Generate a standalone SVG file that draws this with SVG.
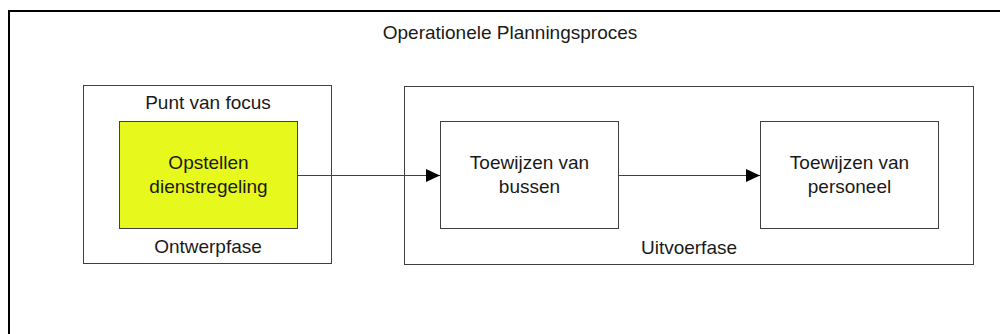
<svg xmlns="http://www.w3.org/2000/svg" width="1000" height="334" viewBox="0 0 1000 334">
  <style>
    .box { fill: #ffffff; stroke: #404040; stroke-width: 1; }
    .focus { fill: #e6f81c; stroke: #404040; stroke-width: 1; }
    .frame { fill: #ffffff; stroke: #000000; stroke-width: 2; }
    .lbl { font-family: "Liberation Sans", Arial, sans-serif; font-size: 19px; fill: #1a1a1a; text-anchor: middle; }
    .edge { stroke: #404040; stroke-width: 1; fill: none; }
  </style>
  <defs>
    <marker id="arrow" markerUnits="userSpaceOnUse" markerWidth="14" markerHeight="14" refX="14" refY="7" orient="auto">
      <path d="M0,0.5 L14,7 L0,13.5 Z" fill="#000000"/>
    </marker>
  </defs>

  <rect width="1000" height="334" fill="#ffffff"/>

  <!-- outer process frame, runs off the right and bottom edges -->
  <g id="process">
    <rect class="frame" x="9" y="11" width="1010" height="340"/>
    <text class="lbl" x="510" y="39">Operationele Planningsproces</text>
  </g>

  <!-- design phase -->
  <g id="ontwerpfase">
    <rect class="box" x="83.5" y="85.5" width="248" height="178"/>
    <text class="lbl" x="208" y="109">Punt van focus</text>
    <text class="lbl" x="208" y="253">Ontwerpfase</text>
  </g>

  <g id="opstellen">
    <rect class="focus" x="119.5" y="121.5" width="178" height="107"/>
    <text class="lbl" x="208.5" y="169">Opstellen</text>
    <text class="lbl" x="208.5" y="193">dienstregeling</text>
  </g>

  <!-- execution phase -->
  <g id="uitvoerfase">
    <rect class="box" x="404.5" y="86.5" width="569" height="178"/>
    <text class="lbl" x="689" y="254">Uitvoerfase</text>
  </g>

  <g id="bussen">
    <rect class="box" x="440.5" y="121.5" width="178" height="107"/>
    <text class="lbl" x="529.5" y="169">Toewijzen van</text>
    <text class="lbl" x="529.5" y="193">bussen</text>
  </g>

  <g id="personeel">
    <rect class="box" x="760.5" y="121.5" width="178" height="107"/>
    <text class="lbl" x="849.5" y="169">Toewijzen van</text>
    <text class="lbl" x="849.5" y="193">personeel</text>
  </g>

  <g id="connectors">
    <line class="edge" x1="297.5" y1="175.5" x2="440" y2="175.5" marker-end="url(#arrow)"/>
    <line class="edge" x1="618.5" y1="175.5" x2="760" y2="175.5" marker-end="url(#arrow)"/>
  </g>
</svg>
